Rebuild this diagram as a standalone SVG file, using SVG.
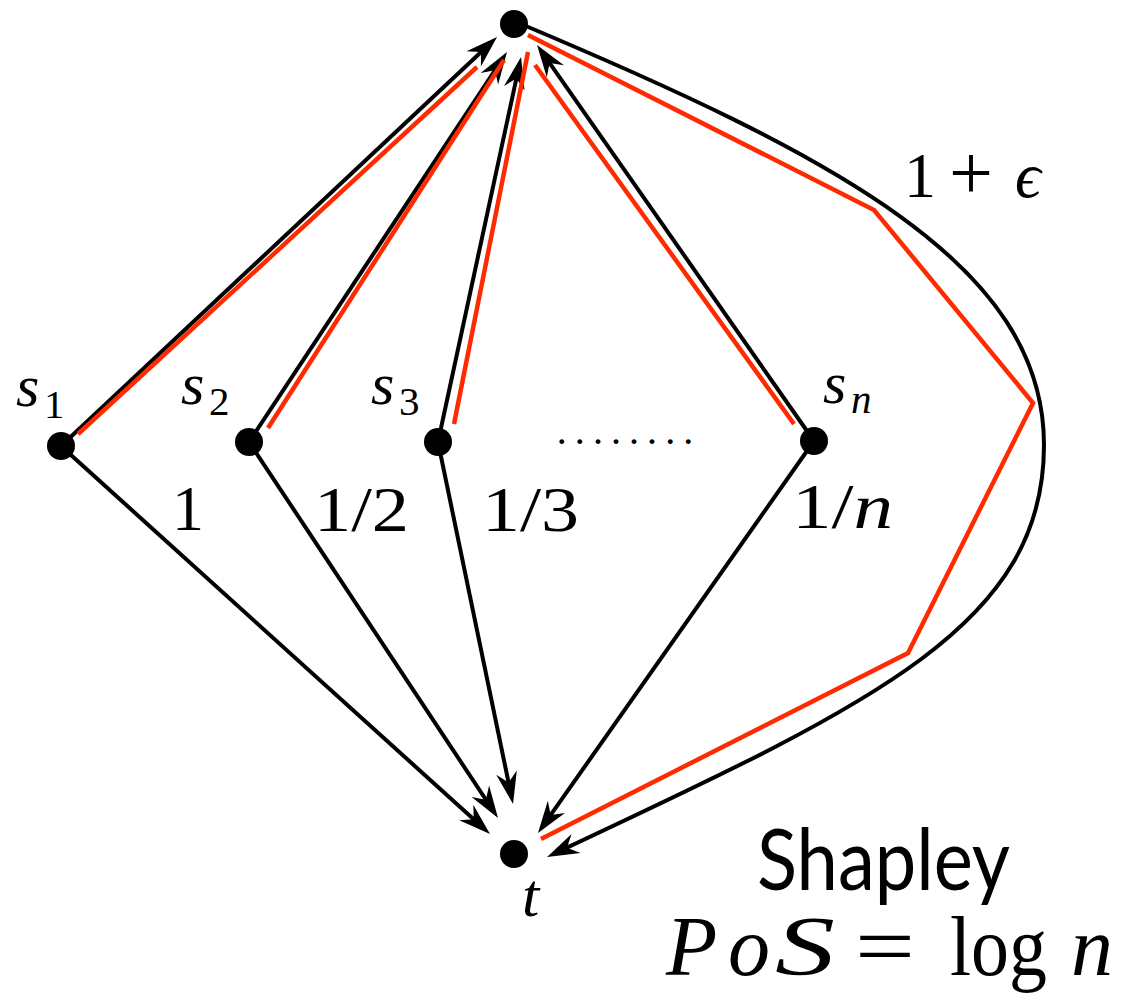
<svg xmlns="http://www.w3.org/2000/svg" width="1139" height="995" viewBox="0 0 1139 995">
<style>
.e{fill:none;stroke:#000;stroke-width:4;marker-end:url(#arr)}
.r{fill:none;stroke:#ff2a00;stroke-width:4.5}
.n{fill:#000}
.m{font-family:"Liberation Serif",serif;fill:#000}
.i{font-style:italic}
.sf{font-family:Lato,"Open Sans",sans-serif;fill:#000}
</style>
<defs>
<marker id="arr" markerUnits="userSpaceOnUse" markerWidth="60" markerHeight="60" refX="0" refY="0" orient="auto" overflow="visible">
<path d="M12,0 L-20,-10.5 L-10,0 L-20,10.5 Z" fill="#000"/>
</marker>
</defs>
<g id="connectors">
<line class="e" x1="61" y1="446" x2="488.3" y2="45.2"/>
<line class="e" x1="249" y1="442" x2="500.4" y2="62"/>
<line class="e" x1="438" y1="442" x2="518.5" y2="68.7"/>
<line class="e" x1="814" y1="441" x2="543.9" y2="54.8"/>
<line class="e" x1="61" y1="446" x2="481.1" y2="826"/>
<line class="e" x1="249" y1="442" x2="491.4" y2="808"/>
<line class="e" x1="438" y1="442" x2="510.6" y2="792.3"/>
<line class="e" x1="814" y1="441" x2="544.9" y2="823.2"/>
<path class="e" d="M514,21 C836.7,156.5 1044,265 1044,445 C1044,625 874.7,703.1 557.9,851.9"/>
<line class="r" x1="78" y1="434" x2="477" y2="67"/>
<line class="r" x1="268" y1="428" x2="504" y2="60"/>
<line class="r" x1="454" y1="424" x2="528" y2="52"/>
<line class="r" x1="794" y1="424" x2="535" y2="65"/>
<polyline class="r" points="528,35 874,210 1033,403 908,653 541,839"/>
</g>
<g id="node-top"><circle class="n" cx="514" cy="24" r="14"/></g>
<g id="node-s1"><circle class="n" cx="61" cy="446" r="14"/>
<text class="m i" x="16" y="406" font-size="60">s</text><text class="m" x="44" y="418" font-size="41">1</text></g>
<g id="node-s2"><circle class="n" cx="249" cy="442" r="14"/>
<text class="m i" x="181" y="404" font-size="60">s</text><text class="m" x="209" y="415" font-size="41">2</text></g>
<g id="node-s3"><circle class="n" cx="438" cy="442" r="14"/>
<text class="m i" x="371" y="404" font-size="60">s</text><text class="m" x="399" y="415" font-size="41">3</text></g>
<g id="node-sn"><circle class="n" cx="814" cy="441" r="14"/>
<text class="m i" x="823" y="403" font-size="60">s</text><text class="m i" x="851" y="413" font-size="41">n</text></g>
<g id="node-t"><circle class="n" cx="514" cy="854" r="14"/>
<text class="m i" x="522" y="916" font-size="62">t</text></g>
<g id="labels">
<text class="m" x="558" y="444" font-size="30" font-weight="bold" textLength="134" lengthAdjust="spacing">........</text>
<text class="m" x="172" y="530" font-size="64">1</text>
<text class="m" x="314" y="531" font-size="64" textLength="95" lengthAdjust="spacingAndGlyphs">1/2</text>
<text class="m" x="482" y="531" font-size="64" textLength="97" lengthAdjust="spacingAndGlyphs">1/3</text>
<text class="m" x="792" y="528" font-size="64" textLength="101" lengthAdjust="spacingAndGlyphs">1/<tspan class="i">n</tspan></text>
<text class="m" x="904" y="197" font-size="64">1</text>
<text class="m" x="949" y="199" font-size="78">+</text>
<text class="m i" x="1015" y="197" font-size="64">ϵ</text>
<text class="sf" x="757" y="890" font-size="86" textLength="253" lengthAdjust="spacingAndGlyphs">Shapley</text>
<text class="m i" y="975" font-size="84"><tspan x="666">P</tspan><tspan x="728">o</tspan><tspan x="775" textLength="60" lengthAdjust="spacingAndGlyphs">S</tspan></text>
<text class="m" x="855" y="975" font-size="84" textLength="60" lengthAdjust="spacingAndGlyphs">=</text>
<text class="m" x="950" y="975" font-size="84" textLength="97" lengthAdjust="spacingAndGlyphs">log</text>
<text class="m i" x="1071" y="975" font-size="84">n</text>
</g>
</svg>
